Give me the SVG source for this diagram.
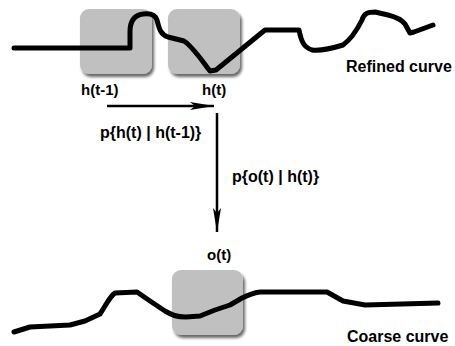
<svg xmlns="http://www.w3.org/2000/svg" width="455" height="346" viewBox="0 0 455 346">
<defs>
<filter id="sh" x="-20%" y="-20%" width="150%" height="150%">
<feGaussianBlur in="SourceAlpha" stdDeviation="1.5"/>
<feOffset dx="2" dy="3" result="b"/>
<feComponentTransfer><feFuncA type="linear" slope="0.6"/></feComponentTransfer>
<feMerge><feMergeNode/><feMergeNode in="SourceGraphic"/></feMerge>
</filter>
<marker id="ah" viewBox="0 0 24 10" refX="24" refY="5" markerWidth="24" markerHeight="10" markerUnits="userSpaceOnUse" orient="auto">
<path d="M0,1 L24,5 L0,9 L5,5 Z" fill="#000"/>
</marker>
<style>
.box{fill:#c0c0c0;filter:url(#sh)}
.curve{fill:none;stroke:#000;stroke-width:5;stroke-linecap:round;stroke-linejoin:round}
.t{font-family:"Liberation Sans",Arial,sans-serif;font-weight:bold;font-size:16px;fill:#000}
.s{font-size:15px}
.edge{stroke:#000;stroke-width:2.5;fill:none}
</style>
</defs>
<g id="node-h-prev">
<rect class="box" x="80" y="9" width="72" height="65" rx="9"/>
<text class="t s" x="81" y="95">h(t-1)</text>
</g>
<g id="node-h">
<rect class="box" x="168" y="9" width="72" height="65" rx="9"/>
<text class="t s" x="202" y="95">h(t)</text>
</g>
<g id="node-o">
<rect class="box" x="172" y="270" width="71" height="65" rx="9"/>
<text class="t s" x="207" y="260">o(t)</text>
</g>
<g id="curves">
<path class="curve" d="M14,48 L130,48 L130,32 C130,22 134,15 143,14 C150,13 155,14 157,20 C159,28 160,34 168,37 L184,41 C192,46 200,58 210,71 L216,70 L265,30 L299,30 C301,40 303,47 312,50 C320,51 330,49 343,45 C350,40 356,32 362,20 C364,13 368,12 375,12 L388,15 C396,17 402,20 405,24 L410,33 L414,32 L433,25"/>
<path class="curve" d="M14,332 L30,327 L70,325 L85,321 L100,314 C106,305 110,296 115,293 L137,292 L150,301 L165,311 C172,315 176,317 186,317 L200,316 L215,310 L230,305 L242,298 C248,295 253,293 260,292 L327,292 L343,301 L365,305 L438,303"/>
</g>
<g id="label-refined"><text class="t" x="346" y="72">Refined curve</text></g>
<g id="label-coarse"><text class="t" x="347" y="342">Coarse curve</text></g>
<g id="connectors">
<line class="edge" x1="107" y1="106" x2="214" y2="106" marker-end="url(#ah)"/>
<line class="edge" x1="217" y1="113" x2="217" y2="232" marker-end="url(#ah)"/>
<text class="t" x="100" y="138">p{h(t) | h(t-1)}</text>
<text class="t" x="232" y="182">p{o(t) | h(t)}</text>
</g>
</svg>
